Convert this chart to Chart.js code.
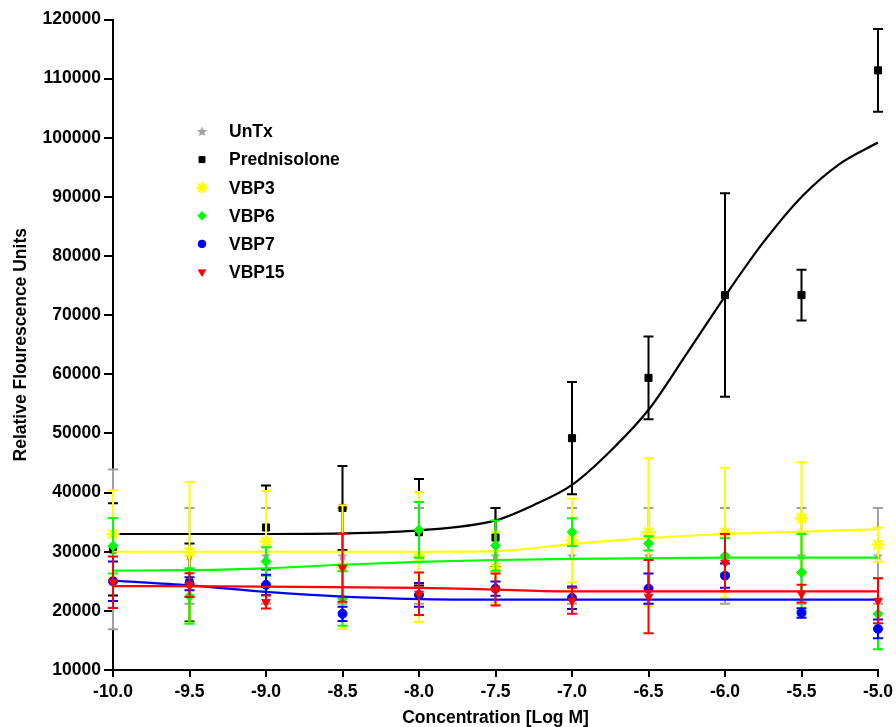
<!DOCTYPE html>
<html>
<head>
<meta charset="utf-8">
<script src="https://cdn.jsdelivr.net/npm/chart.js@4.4.1/dist/chart.umd.min.js"></script>
<style>
    body { margin: 0; background: #fff; }
    #wrap { width: 896px; height: 727px; }
</style>
</head>
<body>
<div id="wrap"><canvas id="myChart" width="896" height="727"></canvas></div>
<script>
// x 축: log 농도
const conc = [-10.0, -9.5, -9.0, -8.5, -8.0, -7.5, -7.0, -6.5, -6.0, -5.5, -5.0];
const xTicks = ['-10.0', '-9.5', '-9.0', '-8.5', '-8.0', '-7.5', '-7.0', '-6.5', '-6.0', '-5.5', '-5.0'];

// 평균값 / 오차
const untx     = [30400, 29300, 29300, 29300, 29300, 29300, 29300, 29300, 29300, 29300, 29300];
const untxErr  = [13500, 8100, 8100, 8100, 8100, 8100, 8100, 8100, 8100, 8100, 8100];
const pred     = [30400, 24800, 34100, 37400, 33300, 32400, 49200, 59400, 73400, 73400, 111400];
const predErr  = [7800, 6600, 7100, 7100, 9000, 5000, 9500, 7000, 17200, 4300, 7000];
const vbp3     = [33000, 29900, 31700, 27400, 29100, 27300, 31900, 33300, 33200, 35650, 31200];
const vbp3Err  = [7400, 11900, 8550, 10450, 11000, 6100, 7050, 12500, 11000, 9500, 2900];
const vbp6     = [31000, 22500, 28350, 22100, 33700, 31050, 33300, 31400, 29300, 26500, 19500];
const vbp6Err  = [4700, 4700, 2400, 4600, 4700, 4250, 2350, 1200, 3000, 6500, 6000];
const vbp7     = [25000, 24600, 24400, 19500, 22700, 23750, 22200, 23750, 25950, 19650, 16950];
const vbp7Err  = [3350, 1100, 1700, 1200, 2000, 1200, 1900, 2550, 2050, 800, 1600];
const vbp15    = [24850, 24350, 21500, 27300, 22900, 23600, 21700, 22400, 28150, 22900, 21700];
const vbp15Err = [4350, 2000, 1100, 5750, 3600, 2700, 2200, 6200, 4850, 1500, 3800];

// 곡선 (그림에서 읽은 점)
const predFitX  = [-10, -9.5, -9, -8.5, -8, -7.5, -7.25, -7, -6.75, -6.5, -6.25, -6, -5.75, -5.5, -5.25, -5];
const predFitY  = [33000, 33000, 33000, 33100, 33600, 35300, 37900, 41300, 47000, 54000, 63500, 73200, 82300, 90000, 95600, 99200];
const vbp3FitX  = [-10, -9, -8, -7.5, -7, -6.5, -6, -5.5, -5];
const vbp3FitY  = [30000, 30000, 30000, 30100, 31300, 32300, 33000, 33400, 33800];
const vbp6FitX  = [-10, -9.5, -9, -8.5, -8, -7.5, -7, -6, -5];
const vbp6FitY  = [26800, 26900, 27200, 27800, 28300, 28600, 28800, 29000, 29000];
const vbp7FitX  = [-10, -9.5, -9, -8.5, -8, -7.5, -5];
const vbp7FitY  = [25100, 24300, 23200, 22400, 22000, 21900, 21900];
const vbp15FitX = [-10, -9, -8, -7.5, -7, -5];
const vbp15FitY = [24200, 24100, 23900, 23600, 23300, 23300];

const names = ['UnTx', 'Prednisolone', 'VBP3', 'VBP6', 'VBP7', 'VBP15'];
const FONT = '"Liberation Sans", Arial, sans-serif';

// 회색 별 모양 (UnTx)
const starImg = document.createElement('canvas');
starImg.width = 11; starImg.height = 11;
(function () {
    const c = starImg.getContext('2d');
    c.fillStyle = '#a0a0a0';
    c.beginPath();
    for (let i = 0; i < 10; i++) {
        const r = i % 2 === 0 ? 5.5 : 2.3;
        const a = -Math.PI / 2 + i * Math.PI / 5;
        c.lineTo(5.5 + r * Math.cos(a), 5.9 + r * Math.sin(a));
    }
    c.closePath();
    c.fill();
})();

const toPts = (xs, ys) => xs.map((x, i) => ({ x: x, y: ys[i] }));

const pointSet = (label, mean, err, color, style, extra) => Object.assign({
    label: label,
    data: toPts(conc, mean),
    errors: err,
    borderColor: color,
    backgroundColor: color,
    pointStyle: style,
    pointRadius: 5,
    pointBorderWidth: 1,
    showLine: false,
    clip: false
}, extra || {});

const fitSet = (xs, ys, color) => ({
    label: '',
    data: toPts(xs, ys),
    borderColor: color,
    borderWidth: 2.2,
    pointRadius: 0,
    showLine: true,
    cubicInterpolationMode: 'monotone',
    clip: false
});

// 그리는 순서대로
const seq = [
    pointSet('UnTx', untx, untxErr, '#a0a0a0', starImg),
    fitSet(predFitX, predFitY, '#000000'),
    pointSet('Prednisolone', pred, predErr, '#000000', 'rect', { pointRadius: 5 }),
    fitSet(vbp3FitX, vbp3FitY, '#ffff00'),
    pointSet('VBP3', vbp3, vbp3Err, '#ffff00', 'star', { pointRadius: 6.5, pointBorderWidth: 2.4 }),
    fitSet(vbp6FitX, vbp6FitY, '#00ff00'),
    pointSet('VBP6', vbp6, vbp6Err, '#00ff00', 'rectRot', { pointRadius: 5 }),
    fitSet(vbp7FitX, vbp7FitY, '#0000ff'),
    pointSet('VBP7', vbp7, vbp7Err, '#0000ff', 'circle', { pointRadius: 4.5 }),
    fitSet(vbp15FitX, vbp15FitY, '#ff0000'),
    pointSet('VBP15', vbp15, vbp15Err, '#ff0000', 'triangle', { pointRadius: 5, rotation: 180 })
];
seq.forEach((d, i) => { d.order = seq.length - i; });

// 오차 막대
const errorBars = {
    id: 'errorBars',
    beforeDatasetDraw(chart, args) {
        const ds = chart.data.datasets[args.index];
        if (!ds.errors) return;
        const ctx = chart.ctx;
        const xs = chart.scales.x, ys = chart.scales.y;
        ctx.save();
        ctx.strokeStyle = ds.borderColor;
        ctx.lineWidth = 2;
        ds.data.forEach((p, i) => {
            const e = ds.errors[i];
            const px = xs.getPixelForValue(p.x);
            const top = ys.getPixelForValue(p.y + e);
            const bot = ys.getPixelForValue(p.y - e);
            ctx.beginPath();
            ctx.moveTo(px, top); ctx.lineTo(px, bot);
            ctx.moveTo(px - 5, top); ctx.lineTo(px + 5, top);
            ctx.moveTo(px - 5, bot); ctx.lineTo(px + 5, bot);
            ctx.stroke();
        });
        ctx.restore();
    }
};

// 범례 (그래프 안쪽 왼쪽 위)
const insideLegend = {
    id: 'insideLegend',
    afterDraw(chart) {
        const ctx = chart.ctx;
        ctx.save();
        ctx.font = 'bold 17.5px ' + FONT;
        ctx.textBaseline = 'middle';
        names.forEach((name, i) => {
            const ds = chart.data.datasets.find(d => d.label === name);
            const y = 131.5 + i * 28.1;
            ctx.fillStyle = ds.backgroundColor;
            ctx.strokeStyle = ds.borderColor;
            ctx.lineWidth = ds.pointBorderWidth;
            Chart.helpers.drawPoint(ctx, {
                pointStyle: ds.pointStyle,
                radius: ds.pointRadius * 0.85,
                rotation: ds.rotation || 0,
                borderWidth: ds.pointBorderWidth
            }, 202, y);
            ctx.fillStyle = '#000';
            ctx.fillText(name, 229, y + 1);
        });
        ctx.restore();
    }
};

const tickFont = { family: FONT, size: 17.5, weight: 'bold' };
const titleFont = { family: FONT, size: 17.5, weight: 'bold', lineHeight: 1.0 };

const config = {
    type: 'scatter',
    data: { datasets: seq },
    options: {
        responsive: false,
        animation: false,
        devicePixelRatio: 1,
        layout: { padding: { top: 19.5, right: 18, left: 0, bottom: 0 } },
        plugins: { legend: { display: false }, tooltip: { enabled: false } },
        scales: {
            x: {
                type: 'linear',
                min: -10, max: -5,
                afterBuildTicks: s => { s.ticks = conc.map(v => ({ value: v })); },
                afterFit: s => { s.height = 57; s.paddingRight = 0; s.paddingLeft = 0; },
                ticks: {
                    callback: (v, i) => xTicks[i],
                    color: '#000', font: tickFont, padding: 5, maxRotation: 0, autoSkip: false
                },
                grid: { drawOnChartArea: false, color: '#000', lineWidth: 2, tickLength: 7 },
                border: { color: '#000', width: 2 },
                title: {
                    display: true, text: 'Concentration [Log M]',
                    color: '#000', font: titleFont, padding: { top: 0, bottom: 0 }
                }
            },
            y: {
                type: 'linear',
                min: 10000, max: 120000,
                afterFit: s => { s.width = 113; },
                ticks: { stepSize: 10000, callback: v => String(v), color: '#000', font: tickFont, padding: 3 },
                grid: { drawOnChartArea: false, color: '#000', lineWidth: 2, tickLength: 9 },
                border: { color: '#000', width: 2 },
                title: {
                    display: true, text: 'Relative Flourescence Units',
                    color: '#000', font: titleFont, padding: { top: 12, bottom: 0 }
                }
            }
        }
    },
    plugins: [errorBars, insideLegend]
};

const myChart = new Chart(document.getElementById('myChart'), config);
</script>
</body>
</html>
